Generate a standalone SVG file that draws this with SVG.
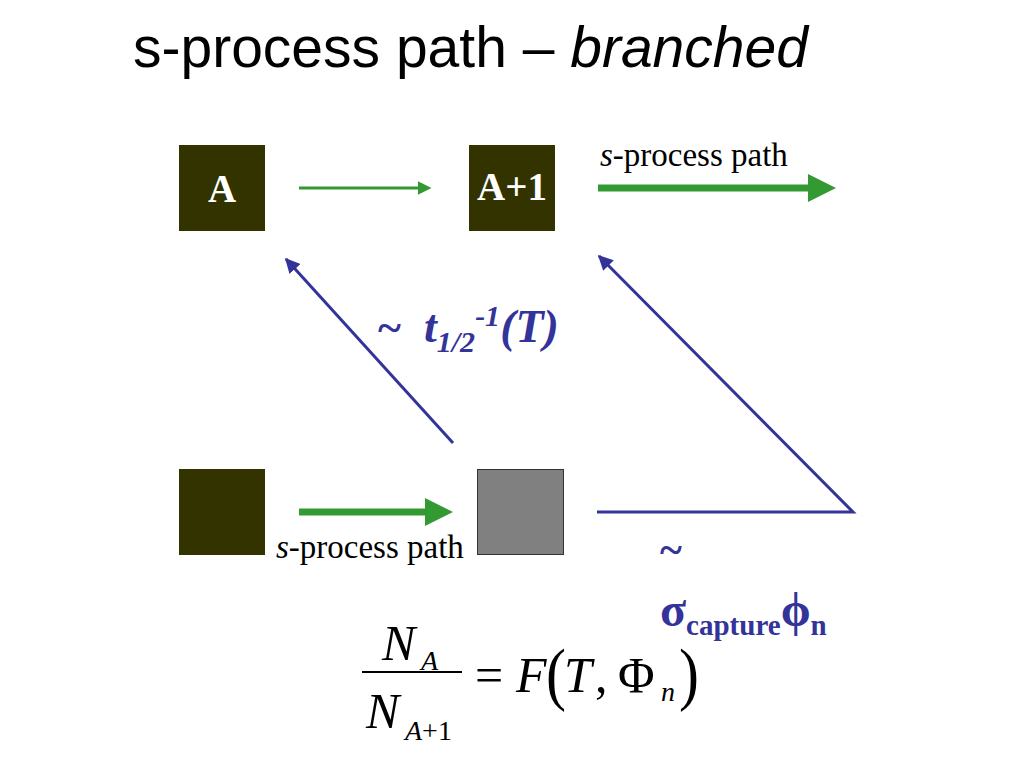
<svg xmlns="http://www.w3.org/2000/svg" width="1024" height="768" viewBox="0 0 1024 768">
<defs>
<style>
.box{fill:#333300;}
.lbl{font-family:"Liberation Serif",serif;font-weight:bold;fill:#ffffff;font-size:39px;}
.sp{font-family:"Liberation Serif",serif;font-size:33px;fill:#000;}
.g{stroke:#339933;fill:none;}
.b{stroke:#333399;stroke-width:3;fill:none;}
.blue{font-family:"Liberation Serif",serif;font-weight:bold;fill:#333399;}
.m{font-family:"Liberation Serif",serif;font-style:italic;fill:#000;}
.r{font-family:"Liberation Serif",serif;fill:#000;}
</style>
<marker id="gs" viewBox="0 0 10 10" refX="0" refY="5" markerWidth="4" markerHeight="4" orient="auto" markerUnits="strokeWidth"><path d="M0,0L10,5L0,10z" fill="#339933"/></marker>
<marker id="gt" viewBox="0 0 10 10" refX="0" refY="5" markerWidth="6" markerHeight="4.5" orient="auto" markerUnits="strokeWidth"><path d="M0,0L10,5L0,10z" fill="#339933"/></marker>
<marker id="bh" viewBox="0 0 10 10" refX="9" refY="5" markerWidth="5" markerHeight="5" orient="auto" markerUnits="strokeWidth"><path d="M0,0L10,5L0,10z" fill="#333399"/></marker>
</defs>
<rect width="1024" height="768" fill="#fff"/>
<text x="133" y="67" font-family="Liberation Sans,sans-serif" font-size="57">s-process path – <tspan font-style="italic">branched</tspan></text>
<g id="nodeA"><rect class="box" x="179" y="145" width="86" height="86"/><text class="lbl" x="222" y="202" text-anchor="middle">A</text></g>
<g id="nodeA1"><rect class="box" x="469" y="145" width="86" height="86"/><text class="lbl" x="512" y="200" text-anchor="middle">A+1</text></g>
<g id="nodeB"><rect class="box" x="179" y="469" width="86" height="86"/></g>
<g id="nodeC"><rect x="477.5" y="469.5" width="86" height="85" fill="#808080" stroke="#333333" stroke-width="1"/></g>
<g id="connectors">
<line class="g" x1="299" y1="188" x2="418" y2="188" stroke-width="3" marker-end="url(#gt)"/>
<line class="g" x1="598" y1="188" x2="808" y2="188" stroke-width="7" marker-end="url(#gs)"/>
<line class="g" x1="299" y1="512" x2="425" y2="512" stroke-width="7" marker-end="url(#gs)"/>
<line class="b" x1="453" y1="443" x2="286" y2="259" marker-end="url(#bh)"/>
<polyline class="b" points="597,512 853,512 599,256" marker-end="url(#bh)"/>
</g>
<text class="sp" x="600" y="166"><tspan font-style="italic">s</tspan>-process path</text>
<text class="sp" x="276" y="558"><tspan font-style="italic">s</tspan>-process path</text>
<text class="blue" x="378" y="342" font-size="44">~</text>
<text class="blue" x="424" y="342" font-size="46" font-style="italic">t<tspan font-size="30" dy="10">1/2</tspan><tspan font-size="30" dy="-26">-1</tspan><tspan dy="16">(T)</tspan></text>
<text class="blue" x="660" y="564" font-size="42">~</text>
<text class="blue" x="660" y="626" font-size="48">σ<tspan font-size="29" dy="9">capture</tspan><tspan font-size="48" dy="-9">ϕ</tspan><tspan font-size="29" dy="9">n</tspan></text>
<g id="eq">
<text class="m" x="382" y="660" font-size="50">N</text>
<text class="m" x="421" y="670" font-size="28">A</text>
<line x1="362" y1="672" x2="462" y2="672" stroke="#000" stroke-width="2"/>
<text class="m" x="366" y="728" font-size="50">N</text>
<text class="m" x="405" y="740" font-size="28">A<tspan font-style="normal">+1</tspan></text>
<text class="r" x="475" y="692" font-size="50">=</text>
<text class="m" x="516" y="692" font-size="50">F</text>
<text class="r" x="546" y="697" font-size="60" transform="translate(546 697) scale(1 1.15) translate(-546 -697)">(</text>
<text class="m" x="564" y="692" font-size="50">T</text>
<text class="r" x="595" y="692" font-size="50">,</text>
<text class="r" x="618" y="692" font-size="50">Φ</text>
<text class="m" x="661" y="701" font-size="28">n</text>
<text class="r" x="679" y="697" font-size="60" transform="translate(679 697) scale(1 1.15) translate(-679 -697)">)</text>
</g>
</svg>
